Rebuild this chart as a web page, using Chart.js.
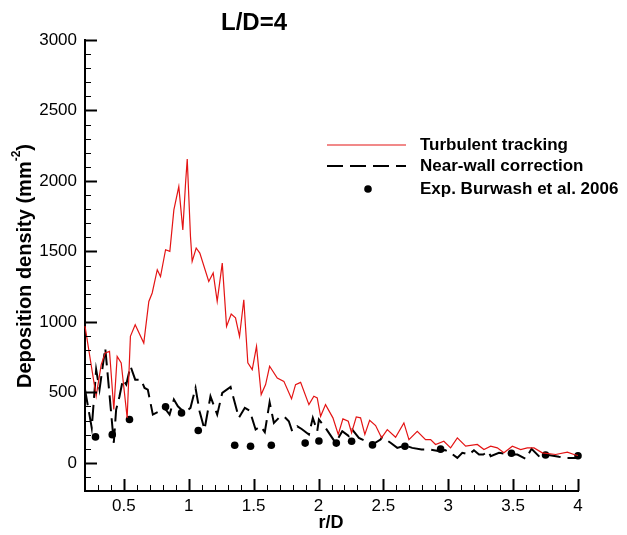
<!DOCTYPE html>
<html>
<head>
<meta charset="utf-8">
<title>L/D=4</title>
<script src="https://cdn.jsdelivr.net/npm/chart.js@4.4.1/dist/chart.umd.min.js"></script>
<style>
  html,body{margin:0;padding:0;background:#fff;}
  canvas{display:block;}
</style>
</head>
<body>
<canvas id="depo" width="627" height="535"></canvas>
<script>
// ---------------- data ----------------
const turbX = [0.2,0.286,0.325,0.356,0.389,0.422,0.448,0.479,0.525,0.55,0.587,0.653,0.692,0.718,0.757,0.782,0.821,0.854,0.885,0.923,0.954,0.975,0.988,1.013,1.026,1.057,1.085,1.154,1.188,1.219,1.258,1.291,1.327,1.36,1.391,1.424,1.455,1.489,1.522,1.558,1.592,1.623,1.682,1.733,1.792,1.823,1.862,1.926,1.964,1.99,2.016,2.054,2.111,2.152,2.188,2.229,2.255,2.291,2.324,2.357,2.394,2.44,2.486,2.53,2.594,2.658,2.697,2.761,2.825,2.864,2.902,2.966,3.018,3.07,3.134,3.224,3.275,3.327,3.378,3.429,3.494,3.558,3.609,3.661,3.725,3.828,3.918,3.969,4.0];
const turbY = [970,472,697,780,791,378,755,709,319,897,980,850,1145,1205,1370,1322,1512,1500,1795,1960,1653,1984,2155,1606,1429,1524,1488,1287,1347,1145,1417,968,1056,1028,897,1157,709,661,826,484,555,685,602,578,454,555,571,413,472,461,330,413,319,201,312,295,213,326,319,201,302,264,177,236,181,283,165,224,165,165,130,153,106,177,118,130,94,118,106,71,118,94,106,106,71,59,75,59,52];

const nearX = [0.2,0.252,0.286,0.312,0.356,0.376,0.397,0.422,0.44,0.466,0.492,0.518,0.551,0.587,0.633,0.659,0.684,0.723,0.775,0.813,0.852,0.885,0.916,0.942,0.98,1.013,1.052,1.083,1.121,1.167,1.219,1.258,1.322,1.386,1.432,1.47,1.515,1.554,1.586,1.623,1.656,1.694,1.733,1.771,1.797,1.836,1.87,1.926,1.956,1.99,2.003,2.054,2.131,2.183,2.234,2.26,2.311,2.414,2.478,2.491,2.555,2.607,2.666,2.722,2.794,2.864,2.933,2.975,3.018,3.07,3.108,3.16,3.198,3.237,3.27,3.309,3.327,3.391,3.481,3.533,3.596,3.642,3.712,3.75,3.853,3.918,4.0];
const nearY = [520,248,661,520,815,614,401,142,378,472,590,555,685,590,590,531,519,342,366,390,342,449,401,378,366,390,531,366,236,472,342,496,538,319,390,370,236,259,217,430,283,319,330,295,224,259,240,201,319,224,307,248,142,224,189,236,177,130,165,184,142,106,123,106,94,94,82,90,71,35,71,59,89,59,59,82,47,71,59,59,28,99,35,59,43,35,35];

const expX = [0.281,0.41,0.543,0.821,0.944,1.073,1.354,1.476,1.636,1.897,2.003,2.137,2.255,2.416,2.666,2.941,3.487,3.75,4.0];
const expY = [184,200,307,397,354,229,125,118,125,140,155,140,153,127,118,97,68,55,50];

const seriesNames = ["Turbulent tracking", "Near-wall correction", "Exp. Burwash et al. 2006"];
const seriesColors = ["#e41414", "#000000", "#000000"];

const xMin = 0.2, xMax = 4, xStep = 0.1, xMajor = 0.5;
const yMin = -200, yMax = 3000, yStep = 100, yMajor = 500;

const FONT = "'Liberation Sans', Arial, Helvetica, sans-serif";

const pairs = (xs, ys) => xs.map((x, i) => ({x: x, y: ys[i]}));
const onMajor = (v, m) => Math.abs(v / m - Math.round(v / m)) < 1e-6;

// ---------------- plugins ----------------
// tecplot style tick marks pointing into the plot
const inwardTicks = {
  id: "inwardTicks",
  afterDatasetsDraw(chart) {
    const {ctx, chartArea: a, scales: {x, y}} = chart;
    ctx.save();
    ctx.strokeStyle = "#000";
    x.ticks.forEach(t => {
      const major = onMajor(t.value, xMajor);
      const px = Math.round(x.getPixelForValue(t.value)) + 0.5;
      ctx.lineWidth = major ? 2 : 1;
      ctx.beginPath();
      ctx.moveTo(px, a.bottom);
      ctx.lineTo(px, a.bottom - (major ? 12 : 6));
      ctx.stroke();
    });
    y.ticks.forEach(t => {
      const major = onMajor(t.value, yMajor);
      const py = Math.round(y.getPixelForValue(t.value)) + 0.5;
      ctx.lineWidth = major ? 2 : 1;
      ctx.beginPath();
      ctx.moveTo(a.left, py);
      ctx.lineTo(a.left + (major ? 12 : 6), py);
      ctx.stroke();
    });
    ctx.restore();
  }
};

// title, axis names and the legend block
const labels = {
  id: "labels",
  afterDraw(chart) {
    const ctx = chart.ctx;
    ctx.save();
    ctx.fillStyle = "#000";
    ctx.textBaseline = "middle";

    ctx.textAlign = "center";
    ctx.font = "bold 24px " + FONT;
    ctx.fillText("L/D=4", 254, 23);

    ctx.font = "bold 18px " + FONT;
    ctx.fillText("r/D", 331, 523);

    // y title, rotated, with superscript
    ctx.translate(25, 266);
    ctx.rotate(-Math.PI / 2);
    const main = "Deposition density (mm";
    ctx.font = "bold 20px " + FONT;
    const w1 = ctx.measureText(main).width;
    ctx.font = "bold 12px " + FONT;
    const w2 = ctx.measureText("-2").width;
    ctx.font = "bold 20px " + FONT;
    const w3 = ctx.measureText(")").width;
    let sx = -(w1 + w2 + w3) / 2;
    ctx.textAlign = "left";
    ctx.fillText(main, sx, 0);
    sx += w1;
    ctx.font = "bold 12px " + FONT;
    ctx.fillText("-2", sx, -8);
    sx += w2;
    ctx.font = "bold 20px " + FONT;
    ctx.fillText(")", sx, 0);
    ctx.setTransform(1, 0, 0, 1, 0, 0);

    // legend
    const rows = [145, 166, 189];
    ctx.font = "bold 17px " + FONT;
    ctx.textAlign = "left";
    chart.data.datasets.forEach((d, i) => {
      const yy = rows[i];
      if (d.showLine === false) {
        ctx.beginPath();
        ctx.arc(368, yy, d.pointRadius, 0, Math.PI * 2);
        ctx.fillStyle = seriesColors[i];
        ctx.fill();
      } else {
        ctx.beginPath();
        ctx.setLineDash(d.borderDash || []);
        ctx.strokeStyle = seriesColors[i];
        ctx.lineWidth = d.borderWidth;
        ctx.moveTo(327, yy);
        ctx.lineTo(406, yy);
        ctx.stroke();
        ctx.setLineDash([]);
      }
      ctx.fillStyle = "#000";
      ctx.fillText(d.label, 420, yy);
    });
    ctx.restore();
  }
};

// ---------------- chart ----------------
new Chart(document.getElementById("depo"), {
  type: "line",
  data: {
    datasets: [
      {
        label: seriesNames[0],
        data: pairs(turbX, turbY),
        borderColor: seriesColors[0],
        borderWidth: 1.2,
        pointRadius: 0,
        tension: 0,
        clip: false
      },
      {
        label: seriesNames[1],
        data: pairs(nearX, nearY),
        borderColor: seriesColors[1],
        borderWidth: 2,
        borderDash: [16, 7],
        pointRadius: 0,
        tension: 0,
        clip: false
      },
      {
        label: seriesNames[2],
        data: pairs(expX, expY),
        showLine: false,
        pointRadius: 3.8,
        pointBorderWidth: 0,
        backgroundColor: seriesColors[2],
        borderColor: seriesColors[2],
        clip: false
      }
    ]
  },
  options: {
    responsive: false,
    animation: false,
    layout: { padding: { left: 0, right: 49, top: 40, bottom: 0 } },
    plugins: { legend: { display: false }, title: { display: false }, tooltip: { enabled: false } },
    scales: {
      x: {
        type: "linear",
        min: xMin, max: xMax,
        grid: { display: false, drawTicks: false },
        border: { display: true, color: "#000", width: 2 },
        afterFit: s => { s.height = 44; },
        ticks: {
          stepSize: xStep,
          autoSkip: false,
          maxRotation: 0,
          padding: 5,
          color: "#000",
          font: { family: FONT, size: 17 },
          callback: v => onMajor(v, xMajor) ? String(Math.round(v * 10) / 10) : ""
        }
      },
      y: {
        min: yMin, max: yMax,
        grid: { display: false, drawTicks: false },
        border: { display: true, color: "#000", width: 2 },
        afterFit: s => { s.width = 85; },
        ticks: {
          stepSize: yStep,
          autoSkip: false,
          padding: 8,
          color: "#000",
          font: { family: FONT, size: 17 },
          callback: v => (onMajor(v, yMajor) && v >= 0) ? String(Math.round(v)) : ""
        }
      }
    }
  },
  plugins: [inwardTicks, labels]
});
</script>
</body>
</html>
